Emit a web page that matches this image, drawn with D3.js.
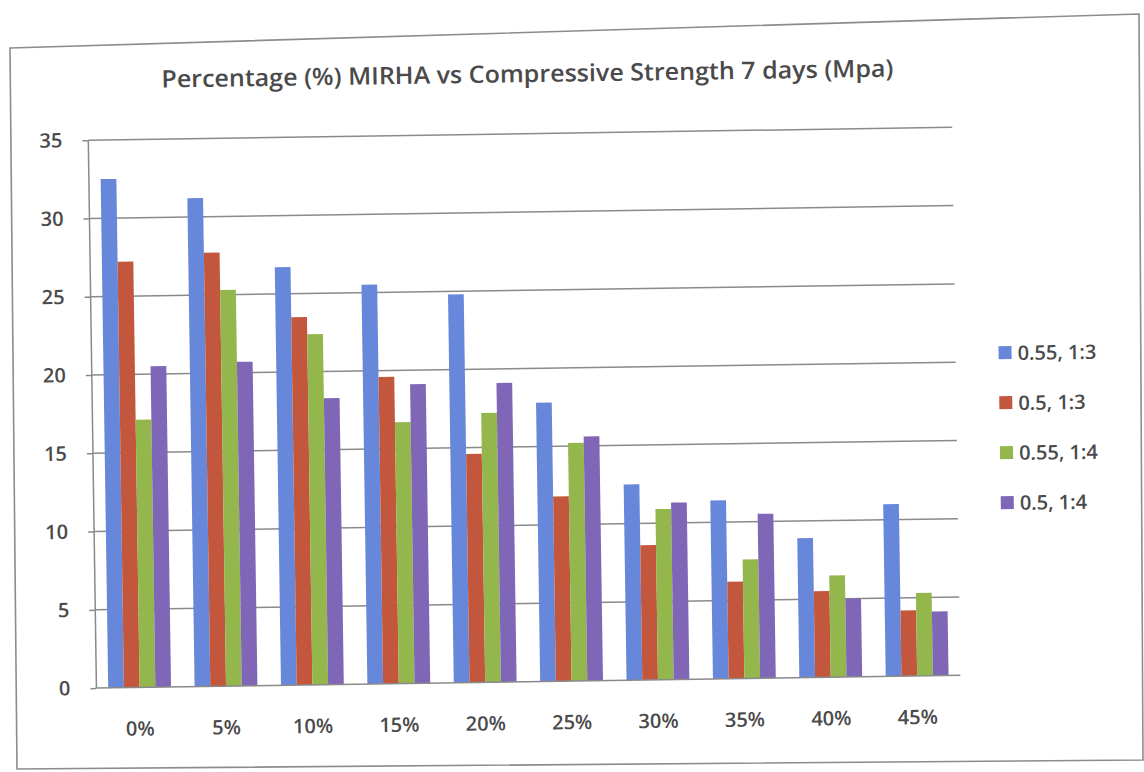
<!DOCTYPE html>
<html>
<head>
<meta charset="utf-8">
<script src="https://cdn.jsdelivr.net/npm/d3@7"></script>
<style>
  html, body { margin: 0; padding: 0; background: #fff; }
  svg { display: block; }
  text { font-family: "Open Sans", "Noto Sans", sans-serif; fill: #4a4a4a; font-weight: 600; }
</style>
</head>
<body>
<svg id="chart" width="1144" height="772"></svg>
<script>
// Compressive strength at 7 days (MPa) by MIRHA replacement percentage
const categories = ["0%", "5%", "10%", "15%", "20%", "25%", "30%", "35%", "40%", "45%"];
const seriesNames = ["0.55, 1:3", "0.5, 1:3", "0.55, 1:4", "0.5, 1:4"];
const s055_13 = [32.5, 31.2, 26.7, 25.5, 24.8, 17.8, 12.5, 11.4, 8.9, 11.0];
const s050_13 = [27.2, 27.7, 23.5, 19.6, 14.6, 11.8, 8.6, 6.2, 5.5, 4.2];
const s055_14 = [17.1, 25.3, 22.4, 16.7, 17.2, 15.2, 10.9, 7.6, 6.5, 5.3];
const s050_14 = [20.5, 20.7, 18.3, 19.1, 19.1, 15.6, 11.3, 10.5, 5.0, 4.1];
const yTicks = [0, 5, 10, 15, 20, 25, 30, 35];
const titleText = "Percentage (%) MIRHA vs Compressive Strength 7 days (Mpa)";
const colors = ["#6787da", "#c2573d", "#93b74c", "#8066b6"];

const seriesValues = [s055_13, s050_13, s055_14, s050_14];
const data = categories.map((c, i) => ({
  cat: c,
  vals: seriesNames.map((s, j) => ({ name: s, value: seriesValues[j][i], idx: j }))
}));

const W = 1144, H = 772;
const svg = d3.select("#chart");
svg.append("rect").attr("width", W).attr("height", H).attr("fill", "#ffffff");

// outer chart frame
svg.append("path")
  .attr("d", "M10,48 L1139,14 L1143,760 L17,769 Z")
  .attr("fill", "none").attr("stroke", "#8c8c8c").attr("stroke-width", 1.6);

// the whole chart sits slightly tilted
const g = svg.append("g").attr("transform", "rotate(-0.85, 572, 386)");

const plot = { left: 92, right: 956, top: 133, bottom: 681 };

const y = d3.scaleLinear().domain([0, 35]).range([plot.bottom, plot.top]);
const x0 = d3.scaleBand().domain(categories).range([plot.left, plot.right]).padding(0);
const gapRatio = 1.5; // gap between groups relative to one bar
const unit = x0.bandwidth() / (seriesNames.length + gapRatio);
const x1 = d3.scaleBand().domain(seriesNames)
  .range([unit * gapRatio / 2, unit * gapRatio / 2 + unit * seriesNames.length]).padding(0);

// title
g.append("text")
  .attr("x", 532).attr("y", 72)
  .attr("text-anchor", "middle").attr("dominant-baseline", "central")
  .attr("font-size", 24)
  .attr("textLength", 732).attr("lengthAdjust", "spacingAndGlyphs")
  .text(titleText);

// gridlines + value axis
const yAxis = d3.axisLeft(y).tickValues(yTicks).tickSize(6).tickPadding(20);
const yG = g.append("g").attr("transform", `translate(${plot.left},0)`).call(yAxis);
yG.select(".domain").remove();
yG.selectAll(".tick line").attr("stroke", "#8a8a8a").attr("stroke-width", 1.5);
yG.selectAll(".tick text").attr("font-size", 20).attr("fill", "#4a4a4a")
  .style("font-family", '"Open Sans", sans-serif').style("font-weight", 600);

g.append("g").selectAll("line").data(yTicks.filter(t => t > 0)).join("line")
  .attr("x1", plot.left).attr("x2", plot.right)
  .attr("y1", d => y(d)).attr("y2", d => y(d))
  .attr("stroke", "#8a8a8a").attr("stroke-width", 1.5);

// bars
g.append("g").selectAll("g").data(data).join("g")
  .attr("transform", d => `translate(${x0(d.cat)},0)`)
  .selectAll("rect").data(d => d.vals).join("rect")
  .attr("x", d => x1(d.name))
  .attr("width", x1.bandwidth())
  .attr("y", d => y(d.value))
  .attr("height", d => y(0) - y(d.value))
  .attr("fill", d => colors[d.idx]);

// axes lines
g.append("line").attr("x1", plot.left).attr("x2", plot.right)
  .attr("y1", y(0)).attr("y2", y(0)).attr("stroke", "#8a8a8a").attr("stroke-width", 1.5);
g.append("line").attr("x1", plot.left).attr("x2", plot.left)
  .attr("y1", y(35)).attr("y2", y(0)).attr("stroke", "#8a8a8a").attr("stroke-width", 1.5);

// category labels
const xAxis = d3.axisBottom(x0).tickSize(0).tickPadding(34);
const xG = g.append("g").attr("transform", `translate(0,${plot.bottom})`).call(xAxis);
xG.select(".domain").remove();
xG.selectAll(".tick text").attr("font-size", 20).attr("fill", "#4a4a4a")
  .style("font-family", '"Open Sans", sans-serif').style("font-weight", 600);

// legend
const legend = g.append("g").attr("transform", "translate(999,359)");
const li = legend.selectAll("g").data(seriesNames).join("g")
  .attr("transform", (d, i) => `translate(0,${i * 50})`);
li.append("rect").attr("x", 0).attr("y", -6.5).attr("width", 13).attr("height", 13)
  .attr("fill", (d, i) => colors[i]);
li.append("text").attr("x", 19).attr("y", 0).attr("dominant-baseline", "central")
  .attr("font-size", 20).text(d => d);
</script>
</body>
</html>
